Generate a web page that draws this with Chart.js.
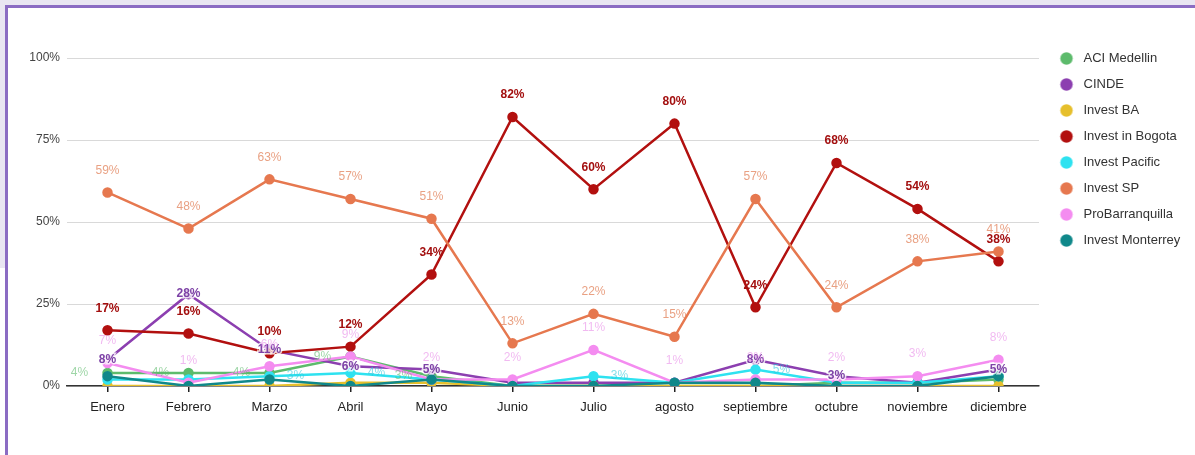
<!DOCTYPE html>
<html>
<head>
<meta charset="utf-8">
<script src="https://cdn.jsdelivr.net/npm/chart.js@4.4.1/dist/chart.umd.min.js"></script>
<style>
  body { margin: 0; background: #fff; width: 1195px; height: 455px; overflow: hidden; position: relative; }
  .strip-top { position: absolute; left: 0; top: 0; width: 1195px; height: 5px; background: #e9e6f2; }
  .strip-left { position: absolute; left: 0; top: 0; width: 5px; height: 268px; background: #e9e6f2; }
  .card { position: absolute; left: 5px; top: 5px; width: 1190px; height: 450px; background: #fff;
          border-left: 3px solid #8b6cc3; border-top: 3px solid #8b6cc3; box-sizing: border-box; }
  #wrap { position: absolute; left: 0; top: 0; width: 1195px; height: 455px; }
</style>
</head>
<body>
<div class="strip-top"></div>
<div class="strip-left"></div>
<div class="card"></div>
<div id="wrap"><canvas id="chart"></canvas></div>
<script>
const months = ["Enero", "Febrero", "Marzo", "Abril", "Mayo", "Junio", "Julio", "agosto", "septiembre", "octubre", "noviembre", "diciembre"];
const yTicks = [0, 25, 50, 75, 100];

const aciMedellin = [4, 4, 4, 9, 3, 0, 0, 0, 0, 1, 1, 2];
const cinde = [8, 28, 11, 6, 5, 1, 1, 1, 8, 3, 1, 5];
const investBA = [0, 0, 0, 1, 1, 0, 0, 0, 0, 0, 0, 0];
const investBogota = [17, 16, 10, 12, 34, 82, 60, 80, 24, 68, 54, 38];
const investPacific = [2, 2, 3, 4, 2, 0, 3, 1, 5, 1, 1, 3];
const investSP = [59, 48, 63, 57, 51, 13, 22, 15, 57, 24, 38, 41];
const proBarranquilla = [7, 1, 6, 9, 2, 2, 11, 1, 2, 2, 3, 8];
const investMonterrey = [3, 0, 2, 0, 2, 0, 0, 1, 1, 0, 0, 3];

// which points get a value label
const labelsACI = [0, 1, 2, 3, 4];
const labelsCINDE = [0, 1, 2, 3, 4, 8, 9, 11];
const labelsBogota = [0, 1, 2, 3, 4, 5, 6, 7, 8, 9, 10, 11];
const labelsPacific = [2, 3, 6, 8];
const labelsSP = [0, 1, 2, 3, 4, 5, 6, 7, 8, 9, 10, 11];
const labelsPro = [0, 1, 2, 3, 4, 5, 6, 7, 8, 9, 10, 11];

const series = [
  { label: "ACI Medellin", data: aciMedellin, color: "#5dbb6c", lbl: labelsACI, pos: "left", lblColor: "rgba(93,187,108,0.6)", bold: false },
  { label: "CINDE", data: cinde, color: "#8c3fb0", lbl: labelsCINDE, pos: "center", lblColor: "#7d42a6", bold: true },
  { label: "Invest BA", data: investBA, color: "#e6bf2c", lbl: [], pos: "above" },
  { label: "Invest in Bogota", data: investBogota, color: "#b2100f", lbl: labelsBogota, pos: "above", lblColor: "#a30f0f", bold: true },
  { label: "Invest Pacific", data: investPacific, color: "#2ee2f0", lbl: labelsPacific, pos: "right", lblColor: "rgba(46,200,220,0.6)", bold: false },
  { label: "Invest SP", data: investSP, color: "#e6784f", lbl: labelsSP, pos: "above", lblColor: "rgba(226,130,90,0.75)", bold: false },
  { label: "ProBarranquilla", data: proBarranquilla, color: "#f48cf0", lbl: labelsPro, pos: "above", lblColor: "rgba(232,140,232,0.6)", bold: false },
  { label: "Invest Monterrey", data: investMonterrey, color: "#10888a", lbl: [], pos: "above" }
];

const FONT = "'Liberation Sans', Arial, sans-serif";

// small legend dots, drawn a bit left inside the image so the text gap matches
function legendDot(color) {
  const c = document.createElement("canvas");
  c.width = 25;
  c.height = 13;
  const g = c.getContext("2d");
  g.fillStyle = color;
  g.beginPath();
  g.arc(8, 6.5, 6.2, 0, Math.PI * 2);
  g.fill();
  return c;
}
const legendDots = series.map((s) => legendDot(s.color));

// value labels placed the way the original sheet chart shows them
const valueLabels = {
  id: "valueLabels",
  afterDatasetsDraw(chart) {
    const ctx = chart.ctx;
    ctx.save();
    ctx.textAlign = "center";
    ctx.textBaseline = "middle";
    series.forEach((s, di) => {
      const meta = chart.getDatasetMeta(di);
      s.lbl.forEach((i) => {
        const pt = meta.data[i];
        let x = pt.x, y = pt.y;
        if (s.pos === "above") y -= 22;
        if (s.pos === "left") x -= 28;
        if (s.pos === "right") x += 26;
        ctx.font = (s.bold ? "bold " : "") + "12px " + FONT;
        const txt = s.data[i] + "%";
        if (s.pos === "center") {
          ctx.lineWidth = 3;
          ctx.strokeStyle = "rgba(255,255,255,0.8)";
          ctx.strokeText(txt, x, y);
        }
        ctx.fillStyle = s.lblColor;
        ctx.fillText(txt, x, y);
      });
    });
    ctx.restore();
  }
};

// fixed legend width so the plot area ends where the original does,
// then nudge the legend box up/right to where the original has it
const legendPlace = {
  id: "legendPlace",
  beforeLayout(chart) {
    const lg = chart.legend;
    if (lg && !lg._patched) {
      const orig = lg.fit;
      lg.fit = function () {
        orig.call(this);
        this.width = 156;
      };
      lg._patched = true;
    }
  },
  afterLayout(chart) {
    const lg = chart.legend;
    lg.left += 13;
    lg.right += 13;
    lg.top -= 19;
    lg.bottom -= 19;
  }
};

new Chart(document.getElementById("chart"), {
  type: "line",
  data: {
    labels: months,
    datasets: series.map((s, i) => ({
      label: s.label,
      data: s.data,
      order: -i, // later series drawn on top, like the sheet chart
      borderColor: s.color,
      backgroundColor: s.color,
      pointBackgroundColor: s.color,
      pointBorderColor: s.color,
      borderWidth: 2.5,
      pointRadius: 4,
      tension: 0
    }))
  },
  options: {
    responsive: true,
    maintainAspectRatio: false,
    animation: false,
    layout: { padding: { top: 58, right: 0, bottom: 0, left: 0 } },
    plugins: {
      tooltip: { enabled: false },
      legend: {
        position: "right",
        align: "start",
        labels: {
          usePointStyle: true,
          boxWidth: 12,
          boxHeight: 12,
          padding: 13,
          color: "#333",
          font: { family: FONT, size: 13 },
          generateLabels(chart) {
            const items = Chart.defaults.plugins.legend.labels.generateLabels(chart);
            items.sort((a, b) => a.datasetIndex - b.datasetIndex);
            items.forEach((it) => { it.pointStyle = legendDots[it.datasetIndex]; });
            return items;
          }
        }
      }
    },
    scales: {
      x: {
        offset: true,
        afterFit(scale) { scale.height = 69; },
        grid: { offset: false, drawOnChartArea: false, drawTicks: true, tickLength: 6, color: "#222", lineWidth: 1.5 },
        border: { display: true, color: "#333", width: 1.5 },
        ticks: { color: "#222", padding: 8, font: { family: FONT, size: 13 }, maxRotation: 0 }
      },
      y: {
        min: 0,
        max: 100,
        afterFit(scale) { scale.width = 67; },
        afterBuildTicks(scale) { scale.ticks = yTicks.map((v) => ({ value: v })); },
        grid: { color: "#d9d9d9", drawTicks: false },
        border: { display: false },
        ticks: { color: "#444", padding: 7, font: { family: FONT, size: 12 }, callback: (v) => v + "%" }
      }
    }
  },
  plugins: [valueLabels, legendPlace]
});
</script>
</body>
</html>
